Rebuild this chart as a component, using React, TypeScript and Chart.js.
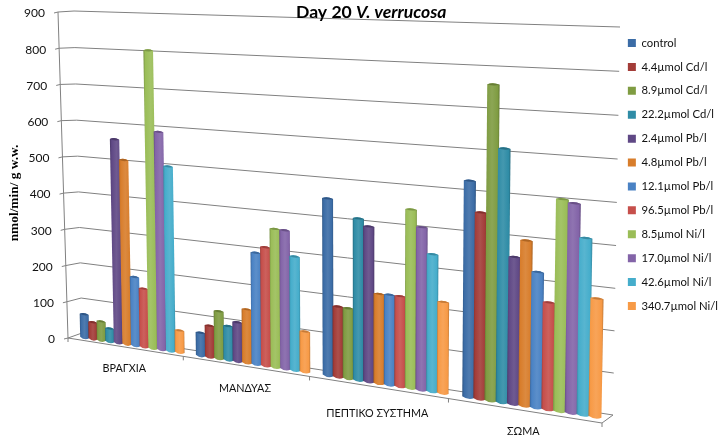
import React, { useEffect, useRef } from "react";
import { Chart, registerables } from "chart.js";

Chart.register(...registerables);

const categories = ["ΒΡΑΓΧΙΑ", "ΜΑΝΔΥΑΣ", "ΠΕΠΤΙΚΟ ΣΥΣΤΗΜΑ", "ΣΩΜΑ"];
const seriesNames = [
  "control", "4.4µmol Cd/l", "8.9µmol Cd/l", "22.2µmol Cd/l", "2.4µmol Pb/l", "4.8µmol Pb/l",
  "12.1µmol Pb/l", "96.5µmol Pb/l", "8.5µmol Ni/l", "17.0µmol Ni/l", "42.6µmol Ni/l", "340.7µmol Ni/l",
];
const control = [64, 60, 441, 513];
const cd44 = [45, 82, 176, 441];
const cd89 = [51, 123, 175, 738];
const cd222 = [35, 88, 399, 593];
const pb24 = [546, 101, 382, 345];
const pb48 = [493, 138, 220, 386];
const pb121 = [184, 286, 221, 316];
const pb965 = [156, 303, 221, 249];
const ni85 = [783, 352, 433, 488];
const ni170 = [574, 351, 393, 481];
const ni426 = [486, 288, 331, 405];
const ni3407 = [58, 102, 220, 271];
const seriesValues = [control, cd44, cd89, cd222, pb24, pb48, pb121, pb965, ni85, ni170, ni426, ni3407];
const seriesColors = [
  "#3B6CA6", "#A33C38", "#7F9C42", "#2F8CA6", "#5F4885", "#D87D2B",
  "#4A82C4", "#C64F4B", "#9ABD57", "#8364A8", "#45ADCB", "#F79A46",
];

type P = { x: number; y: number };
type Q = [P, P, P, P];

function homography(q: Q) {
  const [p0, p1, p2, p3] = q;
  const dx1 = p1.x - p2.x, dx2 = p3.x - p2.x, sx = p0.x - p1.x + p2.x - p3.x;
  const dy1 = p1.y - p2.y, dy2 = p3.y - p2.y, sy = p0.y - p1.y + p2.y - p3.y;
  const den = dx1 * dy2 - dx2 * dy1;
  const g = (sx * dy2 - dx2 * sy) / den;
  const h = (dx1 * sy - sx * dy1) / den;
  const a = p1.x - p0.x + g * p1.x, b = p3.x - p0.x + h * p3.x, c = p0.x;
  const d = p1.y - p0.y + g * p1.y, e = p3.y - p0.y + h * p3.y, f = p0.y;
  return (u: number, v: number): P => {
    const w = g * u + h * v + 1;
    return { x: (a * u + b * v + c) / w, y: (d * u + e * v + f) / w };
  };
}

const barPlane = homography([
  { x: 75, y: 336 }, { x: 609, y: 419 }, { x: 616.5, y: 16 }, { x: 67.5, y: 3 },
]);
const backWall = homography([
  { x: 82, y: 333 }, { x: 613, y: 415 }, { x: 620, y: 27 }, { x: 74, y: 11 },
]);
const axisBase = { x: 68, y: 338 }, axisTop = { x: 58, y: 12 };
const frontRight = { x: 602, y: 423 };
const depth = 0.826;
const labelDrop = [22, 22, 26, 21];
const barSwell = 1.08;
const FONT = "Lato, 'Noto Sans', sans-serif";
const GRID = "#808080";

function front(u: number): P {
  const w = (1 - u) + u * depth;
  const t = (u * depth) / w;
  return { x: axisBase.x + (frontRight.x - axisBase.x) * t, y: axisBase.y + (frontRight.y - axisBase.y) * t };
}

function shade(hex: string, f: number) {
  const n = parseInt(hex.slice(1), 16);
  const ch = [n >> 16, (n >> 8) & 255, n & 255].map((c) =>
    Math.round(f < 1 ? c * f : c + (255 - c) * (f - 1))
  );
  return `rgb(${ch[0]},${ch[1]},${ch[2]})`;
}

const plugin3d = {
  id: "perspective",
  beforeDatasetsDraw(chart: any) {
    const { ctx, chartArea: a, scales } = chart;
    const U = (x: number) => (x - a.left) / (a.right - a.left);
    const V = (y: number) => (a.bottom - y) / (a.bottom - a.top);
    const yS = scales.y;
    const xS = scales.x;
    ctx.save();
    ctx.strokeStyle = GRID;
    ctx.lineWidth = 1;
    const line = (p: P, q: P) => {
      ctx.beginPath();
      ctx.moveTo(p.x, p.y);
      ctx.lineTo(q.x, q.y);
      ctx.stroke();
    };
    ctx.font = `12px ${FONT}`;
    ctx.textAlign = "right";
    ctx.textBaseline = "middle";
    yS.ticks.forEach((t: any) => {
      const v = V(yS.getPixelForValue(t.value));
      const l = { x: axisBase.x + (axisTop.x - axisBase.x) * v, y: axisBase.y + (axisTop.y - axisBase.y) * v };
      const b = backWall(0, v), e = backWall(1, v);
      line({ x: l.x - 4, y: l.y + 1 }, l);
      line(l, b);
      line(b, e);
      ctx.fillStyle = "#111";
      ctx.fillText(String(t.value), l.x - 13, l.y + 1.5);
    });
    line(axisBase, axisTop);
    line(axisBase, frontRight);
    line(frontRight, backWall(1, 0));
    const n = categories.length;
    for (let i = 0; i <= n; i++) {
      const p = front(i / n);
      line(p, { x: p.x, y: p.y + 4 });
    }
    ctx.textAlign = "center";
    ctx.font = `10.8px ${FONT}`;
    categories.forEach((c, i) => {
      const u = U(xS.getPixelForValue(i));
      const p = front(u);
      ctx.fillStyle = "#111";
      ctx.fillText(xS.getLabelForValue(i), p.x, p.y + labelDrop[i]);
    });

    for (let c = 0; c < n; c++) {
      chart.data.datasets.forEach((ds: any, di: number) => {
        const el = chart.getDatasetMeta(di).data[c];
        const { x, y, base, width } = el.getProps(["x", "y", "base", "width"], true);
        const col = ds.backgroundColor;
        const hw = (width * barSwell) / 2;
        const bl = barPlane(U(x - hw), V(base));
        const br = barPlane(U(x + hw), V(base));
        const tl = barPlane(U(x - hw), V(y));
        const tr = barPlane(U(x + hw), V(y));
        const g = ctx.createLinearGradient(Math.min(bl.x, tl.x), 0, Math.max(br.x, tr.x), 0);
        g.addColorStop(0, shade(col, 0.78));
        g.addColorStop(0.14, col);
        g.addColorStop(0.5, shade(col, 1.1));
        g.addColorStop(0.86, col);
        g.addColorStop(1, shade(col, 0.78));
        ctx.fillStyle = g;
        ctx.beginPath();
        ctx.moveTo(tl.x, tl.y);
        ctx.lineTo(bl.x, bl.y);
        ctx.quadraticCurveTo((bl.x + br.x) / 2, (bl.y + br.y) / 2 + 3.5, br.x, br.y);
        ctx.lineTo(tr.x, tr.y);
        ctx.quadraticCurveTo((tl.x + tr.x) / 2, (tl.y + tr.y) / 2 - 2.5, tl.x, tl.y);
        ctx.closePath();
        ctx.fill();
        ctx.fillStyle = shade(col, 0.8);
        ctx.beginPath();
        ctx.moveTo(tl.x, tl.y);
        ctx.quadraticCurveTo((tl.x + tr.x) / 2, (tl.y + tr.y) / 2 - 2.5, tr.x, tr.y);
        ctx.quadraticCurveTo((tl.x + tr.x) / 2, (tl.y + tr.y) / 2 + 2, tl.x, tl.y);
        ctx.closePath();
        ctx.fill();
      });
    }

    ctx.textAlign = "left";
    ctx.textBaseline = "alphabetic";
    ctx.fillStyle = "#000";
    ctx.font = `bold 17.6px ${FONT}`;
    ctx.fillText("Day 20 ", 296, 18);
    const w = ctx.measureText("Day 20 ").width;
    ctx.font = `italic bold 17.6px ${FONT}`;
    ctx.fillText("V. verrucosa", 296 + w, 18);

    ctx.translate(15, 193);
    ctx.rotate(-Math.PI / 2);
    ctx.textAlign = "center";
    ctx.textBaseline = "middle";
    ctx.font = "bold 13.4px 'Liberation Serif'";
    ctx.fillText("nmol/min/ g w.w.", 0, 0);
    ctx.restore();
    return false;
  },
};

export default function App() {
  const ref = useRef<HTMLCanvasElement | null>(null);
  useEffect(() => {
    const chart = new Chart(ref.current!, {
      type: "bar",
      data: {
        labels: categories,
        datasets: seriesNames.map((label, i) => ({
          label,
          data: seriesValues[i],
          backgroundColor: seriesColors[i],
          borderWidth: 0,
          categoryPercentage: 0.9,
          barPercentage: 1,
        })),
      },
      options: {
        responsive: false,
        animation: false,
        layout: { padding: { bottom: 91, right: -2 } },
        scales: {
          x: { display: false },
          y: { display: false, min: 0, max: 900, ticks: { stepSize: 100 } },
        },
        plugins: {
          tooltip: { enabled: false },
          legend: {
            position: "right",
            labels: {
              boxWidth: 8,
              boxHeight: 8,
              padding: 12.6,
              color: "#111",
              font: { family: FONT, size: 11.3 },
            },
          },
        },
      },
      plugins: [plugin3d],
    } as any);
    return () => chart.destroy();
  }, []);
  return (
    <canvas
      ref={ref}
      width={726}
      height={440}
      style={{ position: "absolute", left: 0, top: 0, display: "block", background: "#fff" }}
    />
  );
}
